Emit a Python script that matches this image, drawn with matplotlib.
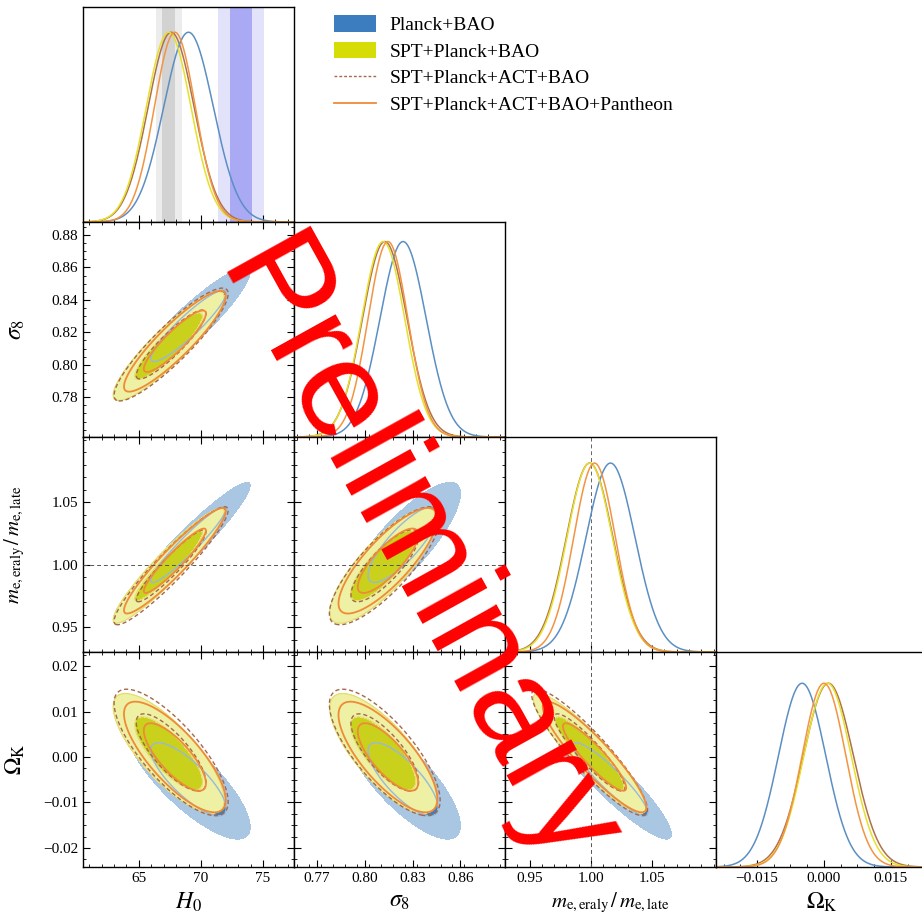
import numpy as np
import matplotlib
matplotlib.use("Agg")
import matplotlib.pyplot as plt
from matplotlib.patches import Patch
from matplotlib.lines import Line2D
from matplotlib.ticker import FixedLocator, MultipleLocator

plt.rcParams["font.family"] = ["Liberation Serif", "DejaVu Serif"]
plt.rcParams["mathtext.fontset"] = "stix"

# chains: Planck+BAO, SPT+Planck+BAO, SPT+Planck+ACT+BAO, ...+Pantheon
datasets = ["Planck+BAO", "SPT+Planck+BAO", "SPT+Planck+ACT+BAO",
            "SPT+Planck+ACT+BAO+Pantheon"]

h0_mean = [69.0, 67.4, 67.6, 67.9]
h0_sigma = [2.0, 1.8, 1.85, 1.65]
s8_mean = [0.824, 0.8115, 0.8125, 0.8145]
s8_sigma = [0.0145, 0.0135, 0.0140, 0.0125]
me_mean = [1.016, 0.999, 0.999, 1.003]
me_sigma = [0.020, 0.0185, 0.019, 0.017]
ok_mean = [-0.0049, 0.0008, 0.0010, 0.0000]
ok_sigma = [0.0053, 0.0053, 0.0056, 0.0049]

rho_h0_s8 = [0.92, 0.90, 0.90, 0.90]
rho_h0_me = [0.95, 0.94, 0.94, 0.94]
rho_s8_me = [0.82, 0.81, 0.81, 0.81]
rho_h0_ok = [-0.80, -0.78, -0.78, -0.78]
rho_s8_ok = [-0.78, -0.76, -0.76, -0.76]
rho_me_ok = [-0.92, -0.91, -0.91, -0.91]

# H0 bands: centre, 1 sigma, 2 sigma
h0_planck_band = [67.4, 0.55, 1.05]
h0_shoes_band = [73.23, 0.91, 1.82]

param_labels = [r"$H_0$", r"$\sigma_8$",
                r"$m_{\rm e,eraly}\,/\,m_{\rm e,late}$", r"$\Omega_{\rm K}$"]
param_ranges = [(60.5, 77.5), (0.7555, 0.888), (0.930, 1.102), (-0.0242, 0.0231)]
major_x = [[65, 70, 75], [0.77, 0.80, 0.83, 0.86], [0.95, 1.00, 1.05],
           [-0.015, 0.0, 0.015]]
major_y = [None, [0.78, 0.80, 0.82, 0.84, 0.86, 0.88], [0.95, 1.00, 1.05],
           [-0.02, -0.01, 0.0, 0.01, 0.02]]
xfmt = ["{:.0f}", "{:.2f}", "{:.2f}", "{:.3f}"]
yfmt = [None, "{:.2f}", "{:.2f}", "{:.2f}"]
minor_x = [1, 0.0075, 0.01, 0.00375]
minor_y = [None, 0.005, 0.01, 0.0025]

means = [h0_mean, s8_mean, me_mean, ok_mean]
sigmas = [h0_sigma, s8_sigma, me_sigma, ok_sigma]
rhos = {(0, 1): rho_h0_s8, (0, 2): rho_h0_me, (1, 2): rho_s8_me,
        (0, 3): rho_h0_ok, (1, 3): rho_s8_ok, (2, 3): rho_me_ok}

line_colors = ["#5b8fc4", "#e6e02a", "#b0704c", "#f29442"]
diag_top = [1.133, 1.10, 1.138, 1.17]
label_size = [17, 17, 15, 17]

W, H = 922, 921
fig = plt.figure(figsize=(W / 100, H / 100), dpi=100)
col_left = [83, 294, 505, 716]
row_top = [7, 222, 437, 652]
pw, ph = 211, 215


def add_panel(r, c):
    return fig.add_axes([col_left[c] / W, 1 - (row_top[r] + ph) / H, pw / W, ph / H])


def fmt_ticks(vals, f):
    return [f.format(v).replace("-", "\u2212") for v in vals]


def chi2(i, j, k, X, Y):
    dx = (X - means[i][k]) / sigmas[i][k]
    dy = (Y - means[j][k]) / sigmas[j][k]
    rho = rhos[(i, j)][k]
    return (dx**2 - 2 * rho * dx * dy + dy**2) / (1 - rho**2)


levels = [0, 2.30, 6.17]

for r in range(4):
    for c in range(r + 1):
        ax = add_panel(r, c)
        for s in ax.spines.values():
            s.set_linewidth(1.0)
        ax.set_xlim(*param_ranges[c])
        ax.xaxis.set_major_locator(FixedLocator(major_x[c]))
        ax.xaxis.set_minor_locator(MultipleLocator(minor_x[c]))
        if r == 3:
            ax.set_xticklabels(fmt_ticks(major_x[c], xfmt[c]), fontsize=11)
            ax.set_xlabel(param_labels[c], fontsize=label_size[c])
            ax.xaxis.set_label_coords(0.5, -0.11)
        else:
            ax.set_xticklabels([])

        if r == c:
            x = np.linspace(*param_ranges[c], 400)
            ax.set_ylim(0, diag_top[c])
            if c == 0:
                cen, s1, s2 = h0_planck_band
                ax.axvspan(cen - s2, cen + s2, color="#ececec", lw=0, zorder=0)
                ax.axvspan(cen - s1, cen + s1, color="#d2d2d2", lw=0, zorder=0)
                cen, s1, s2 = h0_shoes_band
                ax.axvspan(cen - s2, cen + s2, color="#e2e2fb", lw=0, zorder=0)
                ax.axvspan(cen - s1, cen + s1, color="#a9a9f4", lw=0, zorder=0)
            if c == 2:
                ax.axvline(1.0, color="#666666", lw=0.7, ls=(0, (4, 3)))
            for k in [2, 0, 1, 3]:
                y = np.exp(-0.5 * ((x - means[c][k]) / sigmas[c][k]) ** 2)
                ax.plot(x, y, color=line_colors[k], lw=1.1)
            ax.tick_params(which="both", direction="in", left=False, right=False,
                           top=False, labelleft=False)
            ax.tick_params(which="major", length=5, width=0.8)
            ax.tick_params(which="minor", length=2.5, width=0.6)
            ax.set_yticks([])
            if c == 3:
                ax.tick_params(labelbottom=True)
            continue

        ax.set_ylim(*param_ranges[r])
        ax.yaxis.set_major_locator(FixedLocator(major_y[r]))
        ax.yaxis.set_minor_locator(MultipleLocator(minor_y[r]))
        if c == 0:
            ax.set_yticklabels(fmt_ticks(major_y[r], yfmt[r]), fontsize=11)
            ax.set_ylabel(param_labels[r], fontsize=label_size[r])
            ax.yaxis.set_label_coords(-0.265, 0.5)
        else:
            ax.set_yticklabels([])
        ax.tick_params(which="both", direction="in", top=True, right=True)
        ax.tick_params(which="major", length=5, width=0.8)
        ax.tick_params(which="minor", length=2.5, width=0.6)

        gx = np.linspace(*param_ranges[c], 300)
        gy = np.linspace(*param_ranges[r], 300)
        X, Y = np.meshgrid(gx, gy)
        z = [chi2(c, r, k, X, Y) for k in range(4)]

        ax.contourf(X, Y, z[0], levels=levels, colors=["#3f7fbf", "#a9c7e3"], zorder=1)
        ax.contourf(X, Y, z[1], levels=levels, colors=["#c9d11c", "#eef0a4"], zorder=2)
        ax.contour(X, Y, z[1], levels=levels[1:], colors="#e4dc6a", linewidths=0.8, zorder=3)
        ax.contour(X, Y, z[0], levels=[2.30], colors="#98b8d8", linewidths=1.0, zorder=3)
        ax.contour(X, Y, z[2], levels=levels[1:], colors="#a5684a", linewidths=1.0,
                   linestyles=[(0, (3, 2))], zorder=4)
        ax.contour(X, Y, z[3], levels=levels[1:], colors="#f08a38", linewidths=1.3, zorder=5)

        if r == 2:
            ax.axhline(1.0, color="#555555", lw=0.7, ls=(0, (4, 3)), zorder=6)
        if c == 2:
            ax.axvline(1.0, color="#555555", lw=0.7, ls=(0, (4, 3)), zorder=6)

handles = [Patch(facecolor="#3b7dbf", edgecolor="none"),
           Patch(facecolor="#d6dc06", edgecolor="none"),
           Line2D([], [], color="#a5684a", lw=1.0, ls=(0, (2, 1.5))),
           Line2D([], [], color="#f08a38", lw=1.3)]
fig.legend(handles, datasets, loc="upper left", bbox_to_anchor=(316 / W, 1 + 2 / H),
           frameon=False, fontsize=14, handlelength=2.2, handleheight=0.9,
           labelspacing=0.4, handletextpad=0.7)

fig.text(415 / W, 1 - 557 / H, "Preliminary", rotation=-61, rotation_mode="anchor",
         ha="center", va="center", fontsize=100, color="red",
         family="Liberation Sans", zorder=20)

fig.savefig("out.png", dpi=100)
